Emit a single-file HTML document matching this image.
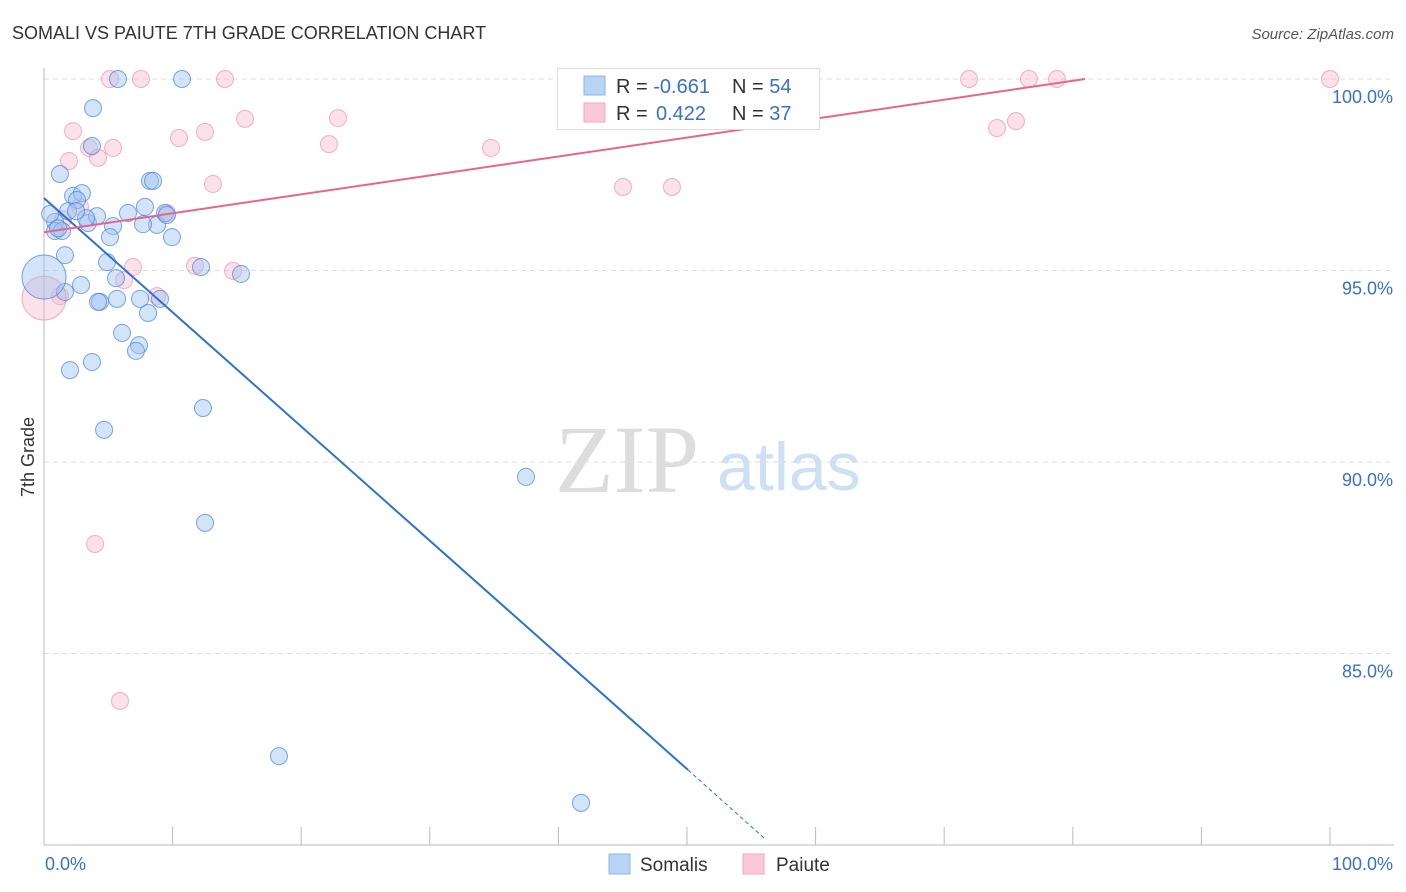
<!DOCTYPE html>
<html><head><meta charset="utf-8"><style>
body{margin:0;background:#fff;font-family:"Liberation Sans",sans-serif;}
svg{display:block}
</style></head><body>
<svg id="chart" width="1406" height="892">
<text x="12" y="39" font-size="18" fill="#333">SOMALI VS PAIUTE 7TH GRADE CORRELATION CHART</text>
<text x="1394" y="39" font-size="15" fill="#555" font-style="italic" text-anchor="end">Source: ZipAtlas.com</text>
<text x="555" y="492" font-size="96" fill="#ddd" font-family="Liberation Serif,serif">ZIP</text>
<text x="717" y="490" font-size="68" fill="#cfe0f4">atlas</text>
<g id="grid"></g><g id="axes"></g><g id="pts"></g><g id="lines"></g>
<text transform="translate(34,457) rotate(-90)" font-size="18" fill="#333" text-anchor="middle">7th Grade</text>
<text x="45" y="870" font-size="18" fill="#3a6fd0">0.0%</text>
<text x="1393" y="870" font-size="18" fill="#3a6fd0" text-anchor="end">100.0%</text>
<g>
<rect x="557.5" y="68.5" width="262" height="61" fill="#fff" stroke="#ddd"/>
<rect x="584" y="76" width="21" height="19" fill="#b9d3f4" stroke="#8fb4e8"/>
<rect x="584" y="103" width="21" height="19" fill="#f9c9d7" stroke="#f0a9bf"/>
<text x="616" y="93" font-size="20" fill="#333">R = <tspan fill="#3a6fd0">-0.661</tspan><tspan x="732">N = </tspan><tspan fill="#3a6fd0">54</tspan></text>
<text x="616" y="120" font-size="20" fill="#333">R = <tspan fill="#3a6fd0" x="656">0.422</tspan><tspan x="732">N = </tspan><tspan fill="#3a6fd0">37</tspan></text>
</g>
<g>
<rect x="609" y="854" width="21" height="20" fill="#b9d3f4" stroke="#8fb4e8"/>
<text x="640" y="871" font-size="19" fill="#333">Somalis</text>
<rect x="743" y="854" width="21" height="20" fill="#f9c9d7" stroke="#f0a9bf"/>
<text x="776" y="871" font-size="19" fill="#333">Paiute</text>
</g>
</svg>
<script>
const yTicks=[100,95,90,85];
const yTickLabels=["100.0%","95.0%","90.0%","85.0%"];
const xTicks=[0,10,20,30,40,50,60,70,80,90,100];
const somaliX=[5.75,10.73,3.81,3.73,1.24,8.24,8.48,2.26,2.95,2.57,1.87,0.86,0.86,1.40,3.42,4.12,3.27,5.37,5.13,6.53,7.85,8.79,9.41,9.95,7.70,1.63,4.90,5.60,2.88,1.63,4.35,4.20,5.68,7.47,9.02,8.09,6.07,7.39,7.15,3.73,2.02,12.36,4.67,37.48,12.52,18.27,41.76,12.21,15.32,0,0.47,9.56,2.49,1.1];
const somaliY=[100,100,99.24,98.25,97.52,97.34,97.34,96.95,97.02,96.84,96.55,96.27,96.03,96.03,96.24,96.42,96.37,96.16,95.87,96.50,96.66,96.19,96.50,95.87,96.21,95.40,95.22,94.80,94.62,94.44,94.18,94.18,94.26,94.26,94.26,93.89,93.37,93.05,92.90,92.61,92.40,91.41,90.84,89.61,88.41,82.32,81.10,95.09,94.91,94.83,96.48,96.45,96.55,96.1];
const paiuteX=[5.13,7.54,14.07,45.80,71.93,76.59,78.77,100,2.26,10.50,12.52,15.63,22.86,22.16,34.76,3.50,5.37,4.20,1.94,13.14,45.02,48.83,74.11,75.58,2.80,9.56,11.74,14.70,6.92,6.22,8.79,1.24,0,3.97,5.91,1.48,46.3];
const paiuteY=[100,100,100,100,100,100,100,100,98.64,98.46,98.62,98.96,98.98,98.30,98.20,98.20,98.20,97.94,97.86,97.26,97.18,97.18,98.72,98.90,96.66,96.50,95.12,94.99,95.09,94.75,94.33,94.33,94.28,87.86,83.76,96.34,100];
const somaliTrend=[[0,96.89],[50.08,81.96],[56.1,80.15]];
const paiuteTrend=[[0,96.0],[80.95,100]];
const X=v=>44+v*12.86, Y=v=>79+(100-v)*38.3;
const NS="http://www.w3.org/2000/svg";
function mk(t,a,p){const e=document.createElementNS(NS,t);for(const k in a)e.setAttribute(k,a[k]);p.appendChild(e);return e;}
const grid=document.getElementById('grid'),axes=document.getElementById('axes'),pts=document.getElementById('pts'),lines=document.getElementById('lines');
yTicks.forEach((t,i)=>{
 const l=mk('line',{x1:44,x2:1394,y1:Y(t),y2:Y(t),stroke:'#ddd','stroke-dasharray':'5,4'},grid);
 
 
 const tx=mk('text',{x:1393,y:Y(t)+24,'font-size':18,fill:'#3a6fd0','text-anchor':'end'},grid);
 tx.textContent=yTickLabels[i];
 
 
});
const ax=mk('line',{x1:44,x2:1394,y1:845,y2:845,stroke:'#bbb'},axes);


const ay=mk('line',{x1:44,x2:44,y1:68,y2:845,stroke:'#bbb'},axes);


xTicks.forEach(t=>{
 const l=mk('line',{x1:X(t),x2:X(t),y1:827,y2:845,stroke:'#bbb'},axes);
 
 
});
function dot(x,y,cls){
 const big=(x===0);
 const c=mk('circle',{cx:X(x),cy:Y(y),r:big?22:8.5,fill:cls==='s'?'rgba(160,196,240,0.45)':'rgba(246,180,200,0.4)',stroke:cls==='s'?'rgba(70,130,215,0.7)':'rgba(235,130,160,0.6)','stroke-width':1},pts);
 
 
}
paiuteX.forEach((x,i)=>dot(x,paiuteY[i],'p'));
somaliX.forEach((x,i)=>dot(x,somaliY[i],'s'));
const s1=mk('line',{x1:X(somaliTrend[0][0]),y1:Y(somaliTrend[0][1]),x2:X(somaliTrend[1][0]),y2:Y(somaliTrend[1][1]),stroke:'#2a72d8','stroke-width':2},lines);


const s2=mk('line',{x1:X(somaliTrend[1][0]),y1:Y(somaliTrend[1][1]),x2:X(somaliTrend[2][0]),y2:Y(somaliTrend[2][1]),stroke:'#2a72d8','stroke-width':1,'stroke-dasharray':'4,3'},lines);


const p1=mk('line',{x1:X(paiuteTrend[0][0]),y1:Y(paiuteTrend[0][1]),x2:X(paiuteTrend[1][0]),y2:Y(paiuteTrend[1][1]),stroke:'#e8648c','stroke-width':2},lines);


</script>
</body></html>
